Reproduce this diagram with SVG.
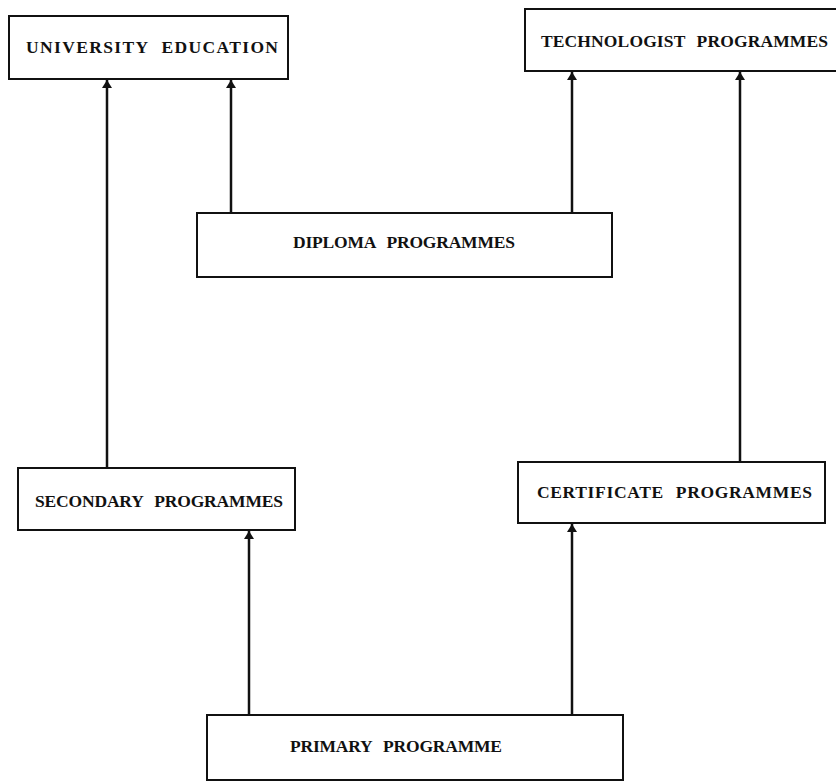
<svg xmlns="http://www.w3.org/2000/svg" width="836" height="782" viewBox="0 0 836 782">
<style>
.box{fill:#fff;stroke:#111;stroke-width:2}
.lbl{font-family:"Liberation Serif","Times New Roman",serif;font-weight:bold;font-size:17.5px;word-spacing:7px;fill:#111}
.con{stroke:#111;stroke-width:2.5;fill:none;marker-end:url(#ah)}
</style>
<defs>
<marker id="ah" viewBox="0 0 8 10" refX="8" refY="5" markerWidth="3.2" markerHeight="4" orient="auto" markerUnits="strokeWidth">
<path d="M0,0 L8,5 L0,10 Z" fill="#111"/>
</marker>
</defs>
<rect width="836" height="782" fill="#fff"/>
<g id="connectors">
<line class="con" x1="107" y1="468" x2="107" y2="80"/>
<line class="con" x1="231" y1="213" x2="231" y2="80"/>
<line class="con" x1="572" y1="213" x2="572" y2="72"/>
<line class="con" x1="740" y1="462" x2="740" y2="72"/>
<line class="con" x1="249" y1="715" x2="249" y2="531"/>
<line class="con" x1="572" y1="715" x2="572" y2="524"/>
</g>
<g id="university">
<rect class="box" x="9" y="16" width="279" height="63"/>
<text class="lbl" x="26" y="53" textLength="252" lengthAdjust="spacing">UNIVERSITY EDUCATION</text>
</g>
<g id="technologist">
<rect class="box" x="525" y="9" width="320" height="62"/>
<text class="lbl" x="541" y="47" textLength="287" lengthAdjust="spacing">TECHNOLOGIST PROGRAMMES</text>
</g>
<g id="diploma">
<rect class="box" x="197" y="213" width="415" height="64"/>
<text class="lbl" x="293" y="248" textLength="222" lengthAdjust="spacing">DIPLOMA PROGRAMMES</text>
</g>
<g id="secondary">
<rect class="box" x="18" y="468" width="277" height="62"/>
<text class="lbl" x="35" y="507" textLength="248" lengthAdjust="spacing">SECONDARY PROGRAMMES</text>
</g>
<g id="certificate">
<rect class="box" x="518" y="462" width="307" height="61"/>
<text class="lbl" x="537" y="498" textLength="275" lengthAdjust="spacing">CERTIFICATE PROGRAMMES</text>
</g>
<g id="primary">
<rect class="box" x="207" y="715" width="416" height="65"/>
<text class="lbl" x="290" y="752" textLength="212" lengthAdjust="spacing">PRIMARY PROGRAMME</text>
</g>
</svg>
